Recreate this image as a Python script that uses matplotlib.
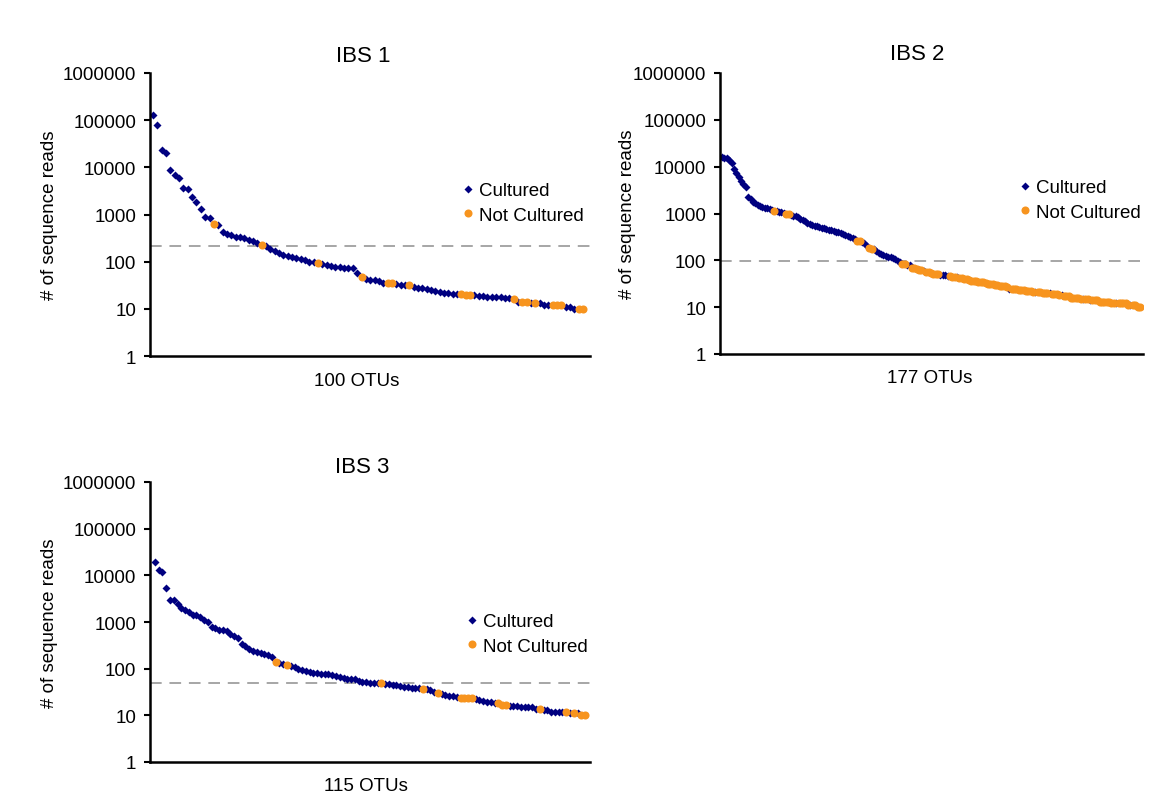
import numpy as np
import matplotlib
matplotlib.use("Agg")
import matplotlib.pyplot as plt
from matplotlib.ticker import FixedLocator, FuncFormatter, NullLocator

plt.rcParams['font.family'] = ['Liberation Sans', 'DejaVu Sans']

# sequence reads per OTU, ranked from most to least abundant
ibs1_reads = [
    130000, 80000, 23000, 20000, 8600, 7000, 6000, 3600, 3400, 2400,
    1800, 1300, 900, 850, 640, 600, 420, 380, 360, 340,
    330, 310, 295, 280, 250, 230, 215, 190, 170, 155,
    140, 130, 125, 120, 115, 110, 100, 98, 95, 90,
    86, 80, 78, 76, 75, 74, 72, 58, 48, 43,
    41, 40, 38, 36, 36, 36, 33, 32, 32, 32,
    29, 28, 27, 26, 25, 24, 23, 22, 22, 21,
    21, 21, 20, 20, 20, 19, 19, 18, 18, 18,
    18, 17, 17, 16, 14, 14, 14, 13, 13, 13,
    12, 12, 12, 12, 12, 11, 11, 10, 10, 10,
]
# C = cultured, N = not cultured (one letter per OTU)
ibs1_status = "".join([
    "CCCCCCCCCC", "CCCCNCCCCC", "CCCCCNCCCC", "CCCCCCCCNC", "CCCCCCCCNC",
    "CCCCNNCCCN", "CCCCCCCCCC", "CNNNCCCCCC", "CCCNCNNCNC", "CCNNNCCCNN",
])
ibs1_cutoff = 220

ibs2_reads = [
    16000, 15500, 15000, 14000, 12000, 9000, 7500, 6100, 5000, 4200,
    3600, 2200, 2000, 1800, 1650, 1500, 1420, 1380, 1330, 1280,
    1230, 1200, 1150, 1120, 1100, 1080, 1050, 1000, 980, 950,
    900, 870, 840, 780, 720, 680, 640, 600, 570, 550,
    530, 510, 500, 480, 460, 450, 440, 420, 410, 400,
    380, 360, 345, 330, 315, 300, 290, 265, 255, 245,
    235, 200, 180, 175, 175, 160, 145, 138, 130, 125,
    120, 117, 110, 105, 98, 90, 84, 82, 80, 78,
    70, 67, 64, 62, 61, 59, 57, 55, 53, 52,
    51, 50, 49, 48, 48, 47, 46, 45, 44, 43,
    42, 41, 40, 39, 38, 37, 37, 36, 35, 34,
    34, 33, 32, 32, 31, 30, 30, 29, 28, 28,
    27, 25, 24, 24, 24, 23, 23, 23, 22, 22,
    22, 21, 21, 21, 21, 20, 20, 20, 20, 19,
    19, 19, 18, 18, 17, 17, 17, 16, 16, 16,
    16, 15, 15, 15, 15, 14, 14, 14, 14, 13,
    13, 13, 13, 13, 12, 12, 12, 12, 12, 12,
    12, 11, 11, 11, 11, 10, 10,
]
ibs2_status = "".join([
    "CCCCCCCCCC", "CCCCCCCCCC", "CCNCCCCNNC", "CCCCCCCCCC", "CCCCCCCCCC",
    "CCCCCCCNNC", "CCNNCCCCCC", "CCCCCCNNCC", "NNNNNCNNNN", "NNCCCCNNNC",
    "NNNNNNNNNN", "NNNNNNNNNN", "NCNNNNNNNN", "NNCNNNNNCN", "NNNCNNNNNN",
    "NNCNNCNNNN", "NNNNNNCNNN", "NNCNNNN",
])
ibs2_cutoff = 95

ibs3_reads = [
    19400, 13000, 12000, 5400, 2900, 2900, 2400, 2000, 1850, 1670,
    1440, 1400, 1250, 1130, 1000, 800, 760, 690, 670, 650,
    540, 500, 450, 330, 300, 260, 240, 230, 215, 205,
    195, 180, 140, 135, 128, 118, 112, 108, 100, 92,
    88, 85, 82, 80, 78, 77, 76, 72, 69, 67,
    63, 60, 60, 59, 55, 53, 51, 50, 50, 50,
    50, 47, 46, 45, 44, 42, 41, 40, 39, 38,
    38, 37, 36, 35, 32, 30, 28, 27, 26, 26,
    25, 24, 24, 24, 23, 22, 21, 20, 19, 19,
    18, 18, 17, 17, 16, 16, 16, 15, 15, 15,
    15, 14, 14, 13, 13, 12, 12, 12, 12, 12,
    11, 11, 11, 10, 10,
]
ibs3_status = "".join([
    "CCCCCCCCCC", "CCCCCCCCCC", "CCCCCCCCCC", "CCNCCNCCCC", "CCCCCCCCCC",
    "CCCCCCCCCC", "NCCCCCCCCC", "CNCCCNCCCC", "CNNNNCCCCC", "CNNNCCCCCC",
    "CCNCCCCCCN", "CNCNN",
])
ibs3_cutoff = 50

navy = '#000080'
orange = '#F7941E'
W, H = 1157, 812


def px_axes(fig, left, top, right, bottom):
    return fig.add_axes([left / W, 1 - bottom / H, (right - left) / W, (bottom - top) / H])


def draw_panel(ax, reads, status, cutoff, xpad, label_x, ylabel_x, legend_xy):
    reads = np.array(reads, dtype=float)
    otu = np.arange(len(reads))
    nc = np.array([s == 'N' for s in status])

    ax.axhline(cutoff, color='#a6a6a6', lw=1.4, dashes=(6, 4), zorder=1)
    ax.plot(otu[~nc], reads[~nc], 'D', color=navy, ms=4.5, mec='none',
            label='Cultured', zorder=2)
    ax.plot(otu[nc], reads[nc], 'o', color=orange, ms=5.8, mec='none',
            label='Not Cultured', zorder=3)

    ax.set_yscale('log')
    ax.set_ylim(1, 1e6)
    ax.set_xlim(-xpad[0], len(reads) - 1 + xpad[1])
    ax.yaxis.set_major_locator(FixedLocator([1, 10, 100, 1000, 1e4, 1e5, 1e6]))
    ax.yaxis.set_minor_locator(NullLocator())
    ax.yaxis.set_major_formatter(FuncFormatter(lambda v, p: f'{v:.0f}'))
    ax.set_xticks([])
    ax.tick_params(axis='y', direction='out', length=4, width=1.5,
                   labelsize=13.5, pad=6)
    for s in ['top', 'right']:
        ax.spines[s].set_visible(False)
    for s in ['left', 'bottom']:
        ax.spines[s].set_linewidth(1.8)

    ax.set_ylabel('# of sequence reads', fontsize=13.5)
    ax.yaxis.set_label_coords(ylabel_x, 0.5)
    ax.set_xlabel(f'{len(reads)} OTUs', fontsize=13.5)
    ax.xaxis.set_label_coords(label_x, -0.055)

    ax.legend(loc='center left', bbox_to_anchor=legend_xy, frameon=False,
              fontsize=13.5, handlelength=0.6, handletextpad=0.3,
              borderpad=0, borderaxespad=0, labelspacing=0.4)


fig = plt.figure(figsize=(W / 100, H / 100), dpi=100)

ax1 = px_axes(fig, 150, 74, 590, 357)
draw_panel(ax1, ibs1_reads, ibs1_status, ibs1_cutoff, (0.7, 1.6), 0.47, -0.209, (0.71, 0.54))
fig.text(363 / W, 1 - 57 / H, 'IBS 1', ha='center', va='center', fontsize=16)

ax2 = px_axes(fig, 720, 74, 1143, 355)
draw_panel(ax2, ibs2_reads, ibs2_status, ibs2_cutoff, (0.85, 1.3), 0.496, -0.199, (0.707, 0.548))
fig.text(917 / W, 1 - 55 / H, 'IBS 2', ha='center', va='center', fontsize=16)

ax3 = px_axes(fig, 150, 483, 590, 763)
draw_panel(ax3, ibs3_reads, ibs3_status, ibs3_cutoff, (1.3, 1.3), 0.49, -0.209, (0.718, 0.457))
fig.text(362 / W, 1 - 468 / H, 'IBS 3', ha='center', va='center', fontsize=16)

fig.savefig('out.png', dpi=100)
